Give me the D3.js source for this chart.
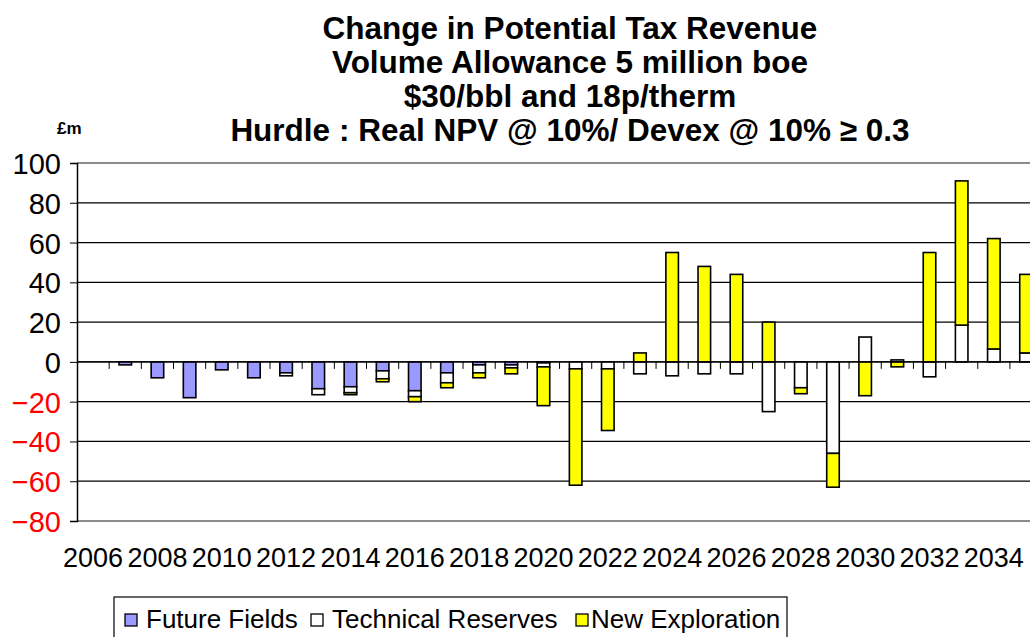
<!DOCTYPE html>
<html>
<head>
<meta charset="utf-8">
<script src="https://cdn.jsdelivr.net/npm/d3@7"></script>
<style>
  html, body { margin: 0; padding: 0; background: #fff; }
  svg { display: block; font-family: "Liberation Sans", Arial, sans-serif; }
</style>
</head>
<body>
<svg id="chart" width="1030" height="637"></svg>
<script>
// Annual change in potential tax revenue (£m), stacked by source
const years = d3.range(2006, 2036);
const futureFields = [0, -1.5, -8, -18, -4, -8, -5.5, -13.5, -12.5, -4.5, -14.5, -5.5, -1.5, -1.5, -0.5,
  0, 0, 0, 0, 0, 0, 0, 0, 0, 0, 0, 0, 0, 0, 0];
const technicalReserves = [0, 0, 0, 0, 0, 0, -1.5, -3, -3, -4, -3, -5, -4, -1.5, -2,
  -3.5, -3.5, -6, -7, -6, -6, -25, -13, -46, 12.5, 1, -7.5, 18.5, 6.5, 4.5];
const newExploration = [0, 0, 0, 0, 0, 0, 0, 0, -1, -1.5, -2.5, -2.5, -2.5, -3, -19.5,
  -58.5, -31, 4.5, 55, 48, 44, 20, -3, -17, -17, -2.5, 55, 72.5, 55.5, 39.5];

const seriesNames = ["Future Fields", "Technical Reserves", "New Exploration"];
const seriesColors = ["#9999FF", "#FFFFFF", "#FFFF00"];
const yTicks = [100, 80, 60, 40, 20, 0, -20, -40, -60, -80];
const xTickYears = years.filter(y => (y - 2006) % 2 === 0);
const titleLines = [
  "Change in Potential Tax Revenue",
  "Volume Allowance 5 million boe",
  "$30/bbl and 18p/therm",
  "Hurdle : Real NPV @ 10%/ Devex @ 10% \u2265 0.3"
];
const unitLabel = "£m";

const rows = years.map((yr, i) => ({
  year: yr,
  "Future Fields": futureFields[i],
  "Technical Reserves": technicalReserves[i],
  "New Exploration": newExploration[i]
}));

const svg = d3.select("#chart");

const plotLeft = 77, bandW = 32.17;
const x = d3.scaleBand()
  .domain(years)
  .range([plotLeft, plotLeft + bandW * years.length])
  .padding(0);
const y = d3.scaleLinear().domain([-80, 100]).range([521, 163]);

// Gridlines
svg.append("g")
  .selectAll("line")
  .data(yTicks.filter(v => v !== 100 && v !== -80))
  .join("line")
  .attr("x1", plotLeft).attr("x2", 1030)
  .attr("y1", d => y(d)).attr("y2", d => y(d))
  .attr("stroke", "#000").attr("stroke-width", 1.2);

// Plot area frame (top and bottom)
[100, -80].forEach(v => {
  svg.append("line")
    .attr("x1", plotLeft).attr("x2", 1030)
    .attr("y1", y(v)).attr("y2", y(v))
    .attr("stroke", "#8c8c8c").attr("stroke-width", 2);
});

// Stacked bars
const stack = d3.stack()
  .keys(seriesNames)
  .order(d3.stackOrderNone)
  .offset(d3.stackOffsetDiverging);
const stacked = stack(rows);

const barW = bandW * 0.39;
svg.append("g")
  .selectAll("g")
  .data(stacked)
  .join("g")
  .attr("fill", (d, i) => seriesColors[i])
  .selectAll("rect")
  .data(d => d.filter(s => s[1] - s[0] !== 0))
  .join("rect")
  .attr("x", d => x(d.data.year) + (bandW - barW) / 2)
  .attr("y", d => y(d[1]))
  .attr("width", barW)
  .attr("height", d => y(d[0]) - y(d[1]))
  .attr("stroke", "#000")
  .attr("stroke-width", 1.6);

// Zero line with category tick marks
svg.append("line")
  .attr("x1", plotLeft).attr("x2", 1030)
  .attr("y1", y(0)).attr("y2", y(0))
  .attr("stroke", "#000").attr("stroke-width", 1.2);
svg.append("g")
  .selectAll("line")
  .data(years.slice(1))
  .join("line")
  .attr("x1", d => x(d)).attr("x2", d => x(d))
  .attr("y1", y(0)).attr("y2", y(0) + 7)
  .attr("stroke", "#000").attr("stroke-width", 1);

// Value axis
const yAxis = d3.axisLeft(y).tickValues(yTicks).tickSize(7).tickPadding(9);
const yG = svg.append("g").attr("transform", `translate(${plotLeft},0)`).call(yAxis);
yG.select(".domain").attr("stroke", "#000").attr("stroke-width", 1.5);
yG.selectAll(".tick line").attr("stroke", "#000");
yG.selectAll(".tick text")
  .attr("font-size", 29)
  .attr("font-family", "Liberation Sans, Arial, sans-serif")
  .attr("fill", d => d < 0 ? "#FF0000" : "#000")
  .attr("dy", "0.36em");

// Category labels
svg.append("g")
  .selectAll("text")
  .data(xTickYears)
  .join("text")
  .attr("x", d => x(d) + bandW / 2)
  .attr("y", 567)
  .attr("text-anchor", "middle")
  .attr("font-size", 27)
  .text(d => d);

// Title
svg.append("g")
  .selectAll("text")
  .data(titleLines)
  .join("text")
  .attr("x", 570)
  .attr("y", (d, i) => 39 + i * 34)
  .attr("text-anchor", "middle")
  .attr("font-size", 31.5)
  .attr("font-weight", "bold")
  .text(d => d);

svg.append("text")
  .attr("x", 57).attr("y", 134)
  .attr("font-size", 17)
  .attr("font-weight", "bold")
  .text(unitLabel);

// Legend
const legend = svg.append("g");
legend.append("rect")
  .attr("x", 114).attr("y", 597)
  .attr("width", 673).attr("height", 60)
  .attr("fill", "#fff").attr("stroke", "#000").attr("stroke-width", 1.2);
const legendX = [125, 311, 576];
seriesNames.forEach((name, i) => {
  legend.append("rect")
    .attr("x", legendX[i]).attr("y", 614)
    .attr("width", 12).attr("height", 12)
    .attr("fill", seriesColors[i])
    .attr("stroke", "#000").attr("stroke-width", 1.3);
  legend.append("text")
    .attr("x", legendX[i] + (i === 2 ? 15 : 21)).attr("y", 628)
    .attr("font-size", 26)
    .text(name);
});
</script>
</body>
</html>
